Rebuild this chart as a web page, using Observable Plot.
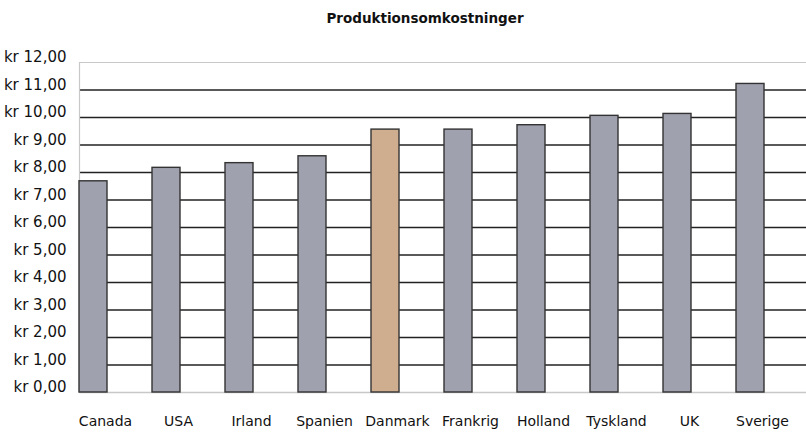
<!DOCTYPE html>
<html>
<head>
<meta charset="utf-8">
<script src="https://cdn.jsdelivr.net/npm/d3@7"></script>
<script src="https://cdn.jsdelivr.net/npm/@observablehq/plot@0.6"></script>
<style>
  body { margin: 0; background: #fff; }
  #wrap { position: relative; width: 806px; height: 432px; overflow: hidden; }
  #title { position: absolute; left: 0; top: 10px; width: 850px; text-align: center;
    font: bold 13.5px "DejaVu Sans", sans-serif; color: #111; }
</style>
</head>
<body>
<div id="wrap"><div id="title">Produktionsomkostninger</div></div>
<script>
const countries = ["Canada", "USA", "Irland", "Spanien", "Danmark", "Frankrig", "Holland", "Tyskland", "UK", "Sverige"];
const costs = [7.68, 8.17, 8.34, 8.59, 9.56, 9.56, 9.72, 10.06, 10.13, 11.22];
const highlight = "Danmark";
const yTicks = [0, 1, 2, 3, 4, 5, 6, 7, 8, 9, 10, 11, 12];
const gridValues = [1, 2, 3, 4, 5, 6, 7, 8, 9, 10, 11];

const data = countries.map((c, i) => ({country: c, cost: costs[i]}));

const chart = Plot.plot({
  width: 806,
  height: 432,
  marginLeft: 79,
  marginRight: 0,
  marginTop: 62,
  marginBottom: 40,
  style: {fontFamily: '"DejaVu Sans", sans-serif', fontSize: "15px", color: "#111", overflow: "visible"},
  x: {domain: countries, paddingInner: 0.615, paddingOuter: 0.22, align: 0, label: null},
  y: {domain: [0, 12], label: null},
  marks: [
    Plot.ruleY(gridValues, {stroke: "#222", strokeWidth: 1.3}),
    Plot.ruleY([12], {stroke: "#c8c8c8", strokeWidth: 1.2}),
    Plot.ruleY([0], {stroke: "#c8c8c8", strokeWidth: 1.5}),
    Plot.frame({anchor: "left", stroke: "#c8c8c8", strokeWidth: 1.2}),
    Plot.barY(data, {x: "country", y: "cost", fill: d => d.country === highlight ? "#cfae90" : "#a0a1ae", stroke: "#333", strokeWidth: 1.4}),
    Plot.axisY(yTicks, {tickSize: 0, tickPadding: 13, dy: -5, tickFormat: d => "kr " + d.toFixed(2).replace(".", ","), fontSize: 15}),
    Plot.axisX({tickSize: 0, tickPadding: 24, dx: 12, fontSize: 14})
  ]
});
document.getElementById("wrap").appendChild(chart);
</script>
</body>
</html>
